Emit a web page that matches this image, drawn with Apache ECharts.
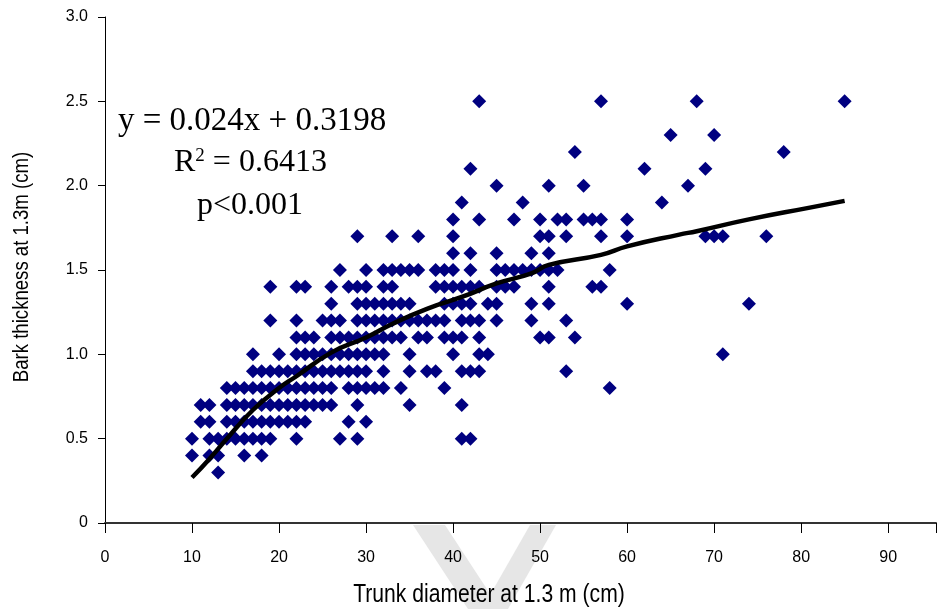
<!DOCTYPE html>
<html>
<head>
<meta charset="utf-8">
<script src="https://cdn.jsdelivr.net/npm/echarts@6/dist/echarts.min.js"></script>
<style>
html,body{margin:0;padding:0;background:#fff;}
#chart{width:939px;height:609px;}
</style>
</head>
<body>
<div id="chart"></div>
<script>
// Trunk diameters (cm) observed at each bark-thickness level (cm)
const d25 = [43, 57, 68, 85];
const d23 = [65, 70];
const d22 = [54, 78];
const d21 = [42, 62, 69];
const d20 = [45, 51, 55, 67];
const d19 = [41, 48, 64];
const d18 = [40, 43, 47, 50, 52, 53, 55, 56, 57, 60];
const d17 = [29, 33, 36, 40, 50, 51, 53, 57, 60, 69, 70, 71, 76];
const d16 = [40, 42, 45, 49, 51];
const d15 = [27, 30, 32, 33, 34, 35, 36, 38, 39, 40, 42, 45, 46, 47, 48, 49, 50, 51, 52, 58];
const d14 = [19, 22, 23, 26, 28, 29, 30, 32, 33, 38, 39, 40, 41, 42, 43, 45, 46, 47, 51, 56, 57];
const d13 = [26, 29, 30, 31, 32, 33, 34, 35, 39, 40, 41, 42, 44, 45, 49, 51, 60, 74];
const d12 = [19, 22, 25, 26, 27, 29, 30, 31, 32, 33, 34, 35, 36, 37, 38, 39, 41, 42, 43, 45, 49, 53];
const d11 = [22, 23, 24, 26, 27, 28, 29, 30, 31, 32, 33, 34, 36, 37, 39, 40, 41, 43, 50, 51, 54];
const d10 = [17, 20, 22, 23, 24, 25, 26, 27, 28, 29, 30, 31, 32, 35, 40, 43, 44, 71];
const d09 = [17, 18, 19, 20, 21, 22, 23, 24, 25, 26, 27, 28, 29, 30, 32, 35, 37, 38, 41, 42, 43, 53];
const d08 = [14, 15, 16, 17, 18, 19, 20, 21, 22, 23, 24, 25, 26, 28, 29, 30, 31, 32, 34, 39, 58];
const d07 = [11, 12, 14, 15, 16, 17, 18, 19, 20, 21, 22, 23, 24, 25, 26, 29, 35, 41];
const d06 = [11, 12, 14, 15, 16, 17, 18, 19, 20, 21, 22, 23, 28, 30];
const d05 = [10, 12, 13, 14, 15, 16, 17, 18, 19, 22, 27, 29, 41, 42];
const d04 = [10, 12, 13, 16, 18];
const d03 = [13];

const barkLevels = [2.5, 2.3, 2.2, 2.1, 2.0, 1.9, 1.8, 1.7, 1.6, 1.5, 1.4, 1.3, 1.2, 1.1, 1.0, 0.9, 0.8, 0.7, 0.6, 0.5, 0.4, 0.3];
const diamRows = [d25, d23, d22, d21, d20, d19, d18, d17, d16, d15, d14, d13, d12, d11, d10, d09, d08, d07, d06, d05, d04, d03];

// Fitted curve
const fitX = [10, 12, 14, 17, 20, 22, 26, 30, 33, 37, 41, 45, 49, 51, 57, 60, 66, 68, 74, 81, 85];
const fitY = [0.27, 0.38, 0.50, 0.67, 0.80, 0.87, 1.01, 1.10, 1.18, 1.27, 1.34, 1.42, 1.48, 1.53, 1.59, 1.64, 1.71, 1.73, 1.80, 1.87, 1.91];

const xTicks = [0, 10, 20, 30, 40, 50, 60, 70, 80, 90];
const yTicks = ['0', '0.5', '1.0', '1.5', '2.0', '2.5', '3.0'];

const scatterData = [];
diamRows.forEach((row, i) => row.forEach(x => scatterData.push([x, barkLevels[i]])));
const fitData = fitX.map((x, i) => [x, fitY[i]]);

const sans = '"Liberation Sans", Arial, sans-serif';
const serif = '"Liberation Serif", "Times New Roman", serif';

const chart = echarts.init(document.getElementById('chart'), null, {renderer: 'canvas'});
chart.setOption({
  animation: false,
  backgroundColor: '#fff',
  grid: {left: 105, right: 0, top: 17, bottom: 86},
  xAxis: {
    type: 'value', min: 0, max: 95.5, interval: 10,
    axisLine: {show: true, onZero: false, lineStyle: {color: '#333', width: 2}},
    axisTick: {show: true, length: 10, lineStyle: {color: '#000', width: 1}},
    axisLabel: {
      margin: 27, fontFamily: sans, fontSize: 16, color: '#000',
      formatter: v => (xTicks.indexOf(v) >= 0 ? String(v) : '')
    },
    splitLine: {show: false}
  },
  yAxis: {
    type: 'value', min: 0, max: 3, interval: 0.5,
    axisLine: {show: true, onZero: false, lineStyle: {color: '#000', width: 1}},
    axisTick: {show: true, length: 7, lineStyle: {color: '#000', width: 1}},
    axisLabel: {
      margin: 17, fontFamily: sans, fontSize: 16, color: '#000',
      formatter: v => yTicks[Math.round(v / 0.5)]
    },
    splitLine: {show: false}
  },
  graphic: [
    {type: 'polygon', z: -10, silent: true,
     shape: {points: [[413, 525], [445, 525], [500, 609], [468, 609]]},
     style: {fill: '#e6e6e6'}},
    {type: 'polygon', z: -10, silent: true,
     shape: {points: [[530, 525], [556, 525], [508, 609], [482, 609]]},
     style: {fill: '#e6e6e6'}},
    {type: 'text', x: 489, y: 595, scaleX: 0.845, z: 5,
     style: {text: 'Trunk diameter at 1.3 m (cm)', font: '25px "Liberation Sans"', fill: '#000',
             textAlign: 'center', textVerticalAlign: 'middle'}},
    {type: 'text', x: 22, y: 267, rotation: Math.PI / 2, scaleX: 0.845, z: 5,
     style: {text: 'Bark thickness at 1.3m (cm)', font: '22px "Liberation Sans"', fill: '#000',
             textAlign: 'center', textVerticalAlign: 'middle'}},
    {type: 'text', x: 118, y: 121, z: 5,
     style: {text: 'y = 0.024x + 0.3198', font: '33px "Liberation Serif"', fill: '#000', textVerticalAlign: 'middle'}},
    {type: 'text', x: 174, y: 163, z: 5,
     style: {
       text: 'R{sup|2} = 0.6413', font: '32px "Liberation Serif"', fill: '#000', textVerticalAlign: 'middle',
       rich: {sup: {fontSize: 19, fontFamily: serif, verticalAlign: 'top', padding: [0, 0, 14, 0]}}
     }},
    {type: 'text', x: 197, y: 206, z: 5,
     style: {text: 'p<0.001', font: '32px "Liberation Serif"', fill: '#000', textVerticalAlign: 'middle'}}
  ],
  series: [
    {
      type: 'scatter', data: scatterData, symbol: 'diamond', symbolSize: [14, 14],
      itemStyle: {color: '#000080', opacity: 1}, z: 2
    },
    {
      type: 'line', data: fitData, smooth: true, symbol: 'none',
      lineStyle: {color: '#000', width: 4.5}, z: 3
    }
  ]
});
</script>
</body>
</html>
